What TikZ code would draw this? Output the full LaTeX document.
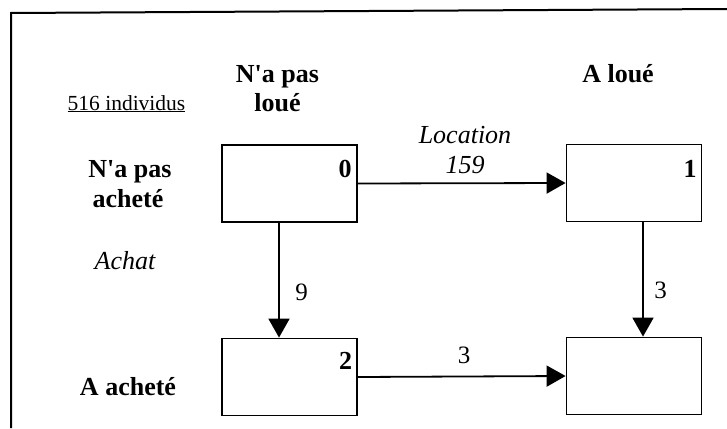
\documentclass[tikz,border=0pt]{standalone}
\usepackage{fontspec}
\setmainfont{Liberation Serif}
\usetikzlibrary{arrows.meta}
\tikzset{
  statebox/.style={draw, line width=1.8pt, minimum width=135pt, minimum height=77pt, inner sep=0pt},
  flow/.style={line width=1.8pt, -{Triangle[length=19pt,width=21pt]}},
  bigbold/.style={font=\fontsize{26}{30}\selectfont\bfseries, inner sep=0pt, anchor=base},
  ital/.style={font=\fontsize{26}{30}\selectfont\itshape, inner sep=0pt, anchor=base},
  numlab/.style={font=\fontsize{25}{28}\selectfont, inner sep=0pt, anchor=base},
  boxnum/.style={font=\fontsize{26}{28}\selectfont\bfseries, inner sep=0pt, anchor=base},
}
\begin{document}
\begin{tikzpicture}[x=1pt,y=1pt]
\useasboundingbox (0,0) rectangle (727,-428);
% frame
\draw[line width=2pt] (11,-428) -- (11,-13) -- (727,-9);
% boxes
\node[statebox] (b0) at (289.5,-183.5) {};
\node[statebox] (b1) at (634,-183) {};
\node[statebox] (b2) at (289.5,-377) {};
\node[statebox] (b3) at (634,-376) {};
% numbers in boxes
\node[boxnum] (n0) at (345,-177) {0};
\node[boxnum] (n1) at (690,-177) {1};
\node[boxnum] (n2) at (345.5,-369) {2};
% arrows
\draw[flow] (b0.east) -- (b1.west);
\draw[flow] (b2.east) -- (b3.west);
\draw[flow] ([xshift=-10.5pt]b0.south) -- ([xshift=-10.5pt]b2.north);
\draw[flow] ([xshift=9pt]b1.south) -- ([xshift=9pt]b3.north);
% arrow labels
\node[ital] (loc1) at (465,-143) {Location};
\node[ital] (loc2) at (465,-173) {159};
\node[numlab] (l9) at (301.5,-300) {9};
\node[numlab] (l3a) at (660.5,-298) {3};
\node[numlab] (l3b) at (464,-363) {3};
% headings
\node[bigbold] (h0a) at (277.5,-82) {N\textquotesingle a pas};
\node[bigbold] (h0b) at (277.5,-111) {loué};
\node[bigbold] (h1) at (618,-82) {A loué};
\node[font=\fontsize{21.5}{24}\selectfont, inner sep=0pt, anchor=base] (tot) at (126.5,-110) {\underline{516 individus}};
% row labels
\node[bigbold] (r0a) at (130,-177) {N\textquotesingle a pas};
\node[bigbold] (r0b) at (128,-207) {acheté};
\node[ital] (ach) at (125,-269) {Achat};
\node[bigbold] (r1) at (128,-395) {A acheté};
\end{tikzpicture}
\end{document}
